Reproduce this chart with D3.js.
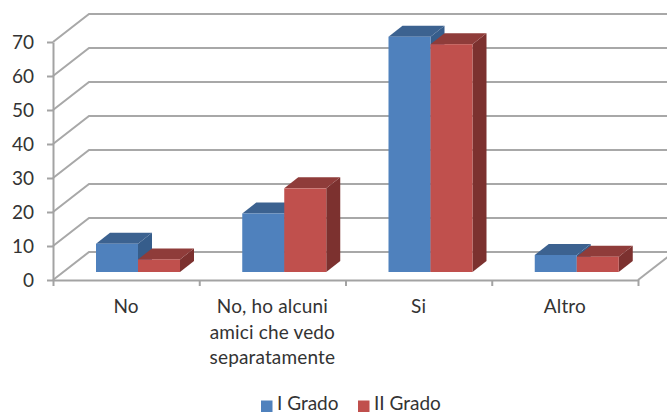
<!DOCTYPE html>
<html>
<head>
<meta charset="utf-8">
<script src="https://cdn.jsdelivr.net/npm/d3@7"></script>
<style>
  html, body { margin: 0; padding: 0; background: #fff; }
  text { font-family: Lato, "Open Sans", sans-serif; fill: #333; }
  .axis path, .axis line { stroke: #a3a3a3; stroke-width: 2; }
</style>
</head>
<body>
<div class="chart"></div>
<script>
var categories = [["No"], ["No, ho alcuni", "amici che vedo", "separatamente"], ["Si"], ["Altro"]];
var seriesNames = ["I Grado", "II Grado"];
var grado1 = [8.3, 17.2, 69.2, 5];
var grado2 = [3.7, 24.6, 67, 4.5];
var yTicks = [0, 10, 20, 30, 40, 50, 60, 70];

var svgWidth = 667;
var svgHeight = 414;

var colors = [
  { front: "#4f81bd", top: "#3c6290", side: "#365d8b" },
  { front: "#c0504d", top: "#8f3c3a", side: "#7c312f" }
];

// depth of the back wall and of the bars
var wallDx = 36, wallDy = 28;
var barDx = 14, barDy = 11;
var barLift = 8;

var svg = d3.select(".chart")
  .append("svg")
  .attr("width", svgWidth)
  .attr("height", svgHeight);

var yScale = d3.scaleLinear().domain([0, 70]).range([280, 42]);
var xGroups = d3.scaleBand().domain(d3.range(categories.length)).range([53, 638]);
var xBars = d3.scaleBand().domain([0, 1]).range([43, 127]);
var xTicks = d3.scaleLinear().domain([0, categories.length]).range([53, 638]);

// back wall gridlines and the left side of the floor
var grid = svg.append("g").attr("fill", "none").attr("stroke", "#a8a8a8").attr("stroke-width", 2);
grid.selectAll("path")
  .data(yTicks)
  .enter().append("path")
  .attr("d", function(d) {
    var y = yScale(d);
    return "M53," + y + "L" + (53 + wallDx) + "," + (y - wallDy) + "H" + svgWidth;
  });

// right side of the floor, runs off the page
grid.append("path")
  .attr("d", "M638," + yScale(0) + "L" + (638 + wallDx) + "," + (yScale(0) - wallDy));

// axes
svg.append("g")
  .attr("class", "axis")
  .attr("transform", "translate(53,0)")
  .call(d3.axisLeft(yScale).tickValues(yTicks).tickSize(6).tickPadding(13).tickSizeOuter(0))
  .selectAll("text")
  .style("font-size", "19px");

svg.append("g")
  .attr("class", "axis")
  .attr("transform", "translate(0,280)")
  .call(d3.axisBottom(xTicks).ticks(categories.length).tickSize(6).tickSizeOuter(0).tickFormat(""));

// bars
[grado1, grado2].forEach(function(values, s) {
  var g = svg.append("g");
  var w = xBars.bandwidth();
  values.forEach(function(v, i) {
    var x0 = xGroups(i) + xBars(s);
    var x1 = x0 + w;
    var yb = yScale(0) - barLift;
    var yt = yScale(v) - barLift;
    g.append("polygon")
      .attr("fill", colors[s].side)
      .attr("points", [[x1, yt], [x1 + barDx, yt - barDy], [x1 + barDx, yb - barDy], [x1, yb]].join(" "));
    g.append("polygon")
      .attr("fill", colors[s].top)
      .attr("points", [[x0, yt], [x0 + barDx, yt - barDy], [x1 + barDx, yt - barDy], [x1, yt]].join(" "));
    g.append("rect")
      .attr("x", x0)
      .attr("y", yt)
      .attr("width", w)
      .attr("height", yb - yt)
      .attr("fill", colors[s].front);
  });
});

// category labels
categories.forEach(function(lines, i) {
  var label = svg.append("text")
    .attr("text-anchor", "middle")
    .attr("font-size", 19)
    .attr("letter-spacing", 0.15);
  lines.forEach(function(line, j) {
    label.append("tspan")
      .attr("x", xGroups(i) + xGroups.bandwidth() / 2)
      .attr("y", 313 + j * 25.5)
      .text(line);
  });
});

// legend
var legendX = [261, 358];
seriesNames.forEach(function(name, s) {
  svg.append("rect")
    .attr("x", legendX[s])
    .attr("y", 400.5)
    .attr("width", 11.5)
    .attr("height", 11.5)
    .attr("fill", colors[s].front);
  svg.append("text")
    .attr("x", legendX[s] + 16)
    .attr("y", 410)
    .attr("font-size", 19)
    .text(name);
});
</script>
</body>
</html>
